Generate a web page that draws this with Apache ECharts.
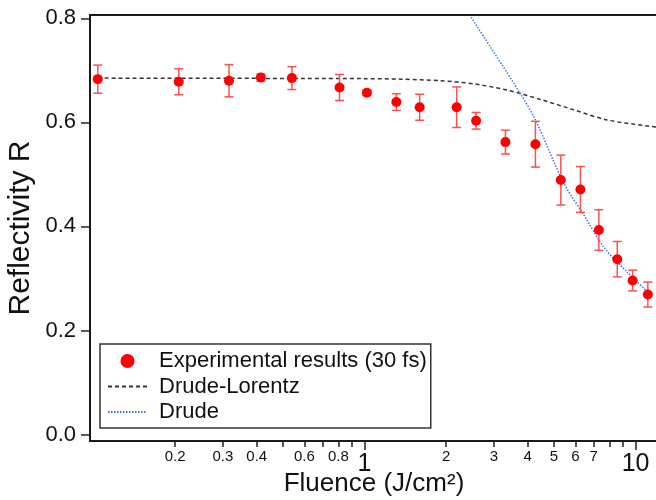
<!DOCTYPE html>
<html>
<head>
<meta charset="utf-8">
<script src="https://cdn.jsdelivr.net/npm/echarts@6/dist/echarts.min.js"></script>
<style>
    html, body { margin: 0; padding: 0; background: #fff; }
    #refl { width: 656px; height: 500px; }
</style>
</head>
<body>
<div id="refl"></div>
<script>
// measured points (fluence in J/cm2, reflectivity, error half-height)
var fluence = [0.1036, 0.2062, 0.316, 0.4143, 0.5393, 0.8083, 1.02, 1.31, 1.597, 2.187, 2.58, 3.31, 4.27, 5.30, 6.26, 7.32, 8.56, 9.75, 11.1];
var reflect = [0.683, 0.678, 0.680, 0.686, 0.685, 0.667, 0.657, 0.639, 0.629, 0.629, 0.603, 0.562, 0.558, 0.489, 0.471, 0.393, 0.337, 0.296, 0.269];
var errR = [0.027, 0.025, 0.031, 0.007, 0.022, 0.025, 0.005, 0.016, 0.025, 0.039, 0.016, 0.023, 0.044, 0.048, 0.044, 0.039, 0.034, 0.020, 0.024];

// Drude-Lorentz model curve
var dlFluence = [0.1036, 1.0, 1.355, 1.904, 2.527, 3.357, 4.457, 5.918, 7.863, 11.05, 11.96];
var dlR = [0.685, 0.684, 0.683, 0.680, 0.674, 0.662, 0.644, 0.624, 0.6045, 0.593, 0.591];

// Drude model curve
var drudeFluence = [2.472, 3.759, 4.272, 5.435, 6.442, 7.686, 9.318, 10.98];
var drudeR = [0.802, 0.655, 0.6045, 0.483, 0.422, 0.358, 0.312, 0.276];

// axis ticks
var xMinorTicks = [0.2, 0.3, 0.4, 0.5, 0.6, 0.7, 0.8, 0.9, 2, 3, 4, 5, 6, 7, 8, 9];
var xMajorTicks = [1, 10];
var xLabels = [0.2, 0.3, 0.4, 0.6, 0.8, 1, 2, 3, 4, 5, 6, 7, 10];
var yTicks = [0, 0.2, 0.4, 0.6, 0.8];

var font = 'Liberation Sans, Arial, sans-serif';

$ = window.$ || function (f) { f(); };

$(function () {
    var chart = echarts.init(document.getElementById('refl'));

    function lg(v) { return Math.log10(v); }
    function pairs(xs, ys) {
        return xs.map(function (x, i) { return [lg(x), ys[i]]; });
    }

    var pts = pairs(fluence, reflect);
    var errData = fluence.map(function (x, i) {
        return [lg(x), reflect[i] - errR[i], reflect[i] + errR[i]];
    });

    var xMin = lg(0.097), xMax = lg(12.1);

    var option = {
        animation: false,
        textStyle: { fontFamily: font },
        grid: {
            left: 90, top: 15, right: -2, bottom: 59,
            outerBoundsMode: 'none',
            containLabel: false,
            show: true,
            borderColor: '#1a1a1a',
            borderWidth: 2
        },
        legend: {
            left: 100,
            top: 344,
            orient: 'vertical',
            selectedMode: false,
            itemWidth: 39,
            itemHeight: 14,
            itemGap: 3.5,
            padding: [6, 4, 5, 7],
            borderColor: '#333',
            borderWidth: 1.5,
            backgroundColor: '#fff',
            textStyle: { fontSize: 22, color: '#111', fontFamily: font, padding: [0, 0, 0, 7] },
            data: [
                'Experimental results (30 fs)',
                { name: 'Drude-Lorentz', itemStyle: { opacity: 0 } },
                { name: 'Drude', itemStyle: { opacity: 0 } }
            ]
        },
        xAxis: [
            {
                type: 'value',
                min: xMin,
                max: xMax,
                name: 'Fluence (J/cm²)',
                nameLocation: 'middle',
                nameGap: 30,
                nameMoveOverlap: false,
                nameTextStyle: { fontSize: 26, color: '#111', fontFamily: font },
                axisLine: { show: true, onZero: false, lineStyle: { color: '#1a1a1a', width: 2 } },
                axisTick: {
                    show: true,
                    length: 6,
                    customValues: xMinorTicks.map(lg),
                    lineStyle: { color: '#222', width: 1.5 }
                },
                axisLabel: {
                    customValues: xLabels.map(lg),
                    margin: 8,
                    fontSize: 15,
                    color: '#111',
                    formatter: function (v) {
                        var f = parseFloat(Math.pow(10, v).toPrecision(3));
                        if (f === 1 || f === 10) {
                            return '{big|' + f + '}';
                        }
                        return String(f);
                    },
                    rich: {
                        big: { fontSize: 25, color: '#111', fontFamily: font, padding: [3, 0, 0, 0] }
                    }
                },
                splitLine: { show: false }
            },
            {
                type: 'value',
                min: xMin,
                max: xMax,
                position: 'bottom',
                axisLine: { show: false, onZero: false },
                axisTick: {
                    show: true,
                    length: 9,
                    customValues: xMajorTicks.map(lg),
                    lineStyle: { color: '#222', width: 1.5 }
                },
                axisLabel: { show: false },
                splitLine: { show: false }
            }
        ],
        yAxis: {
            type: 'value',
            min: -0.0125,
            max: 0.8063,
            name: 'Reflectivity R',
            nameLocation: 'middle',
            nameGap: 54,
            nameMoveOverlap: false,
            nameTextStyle: { fontSize: 30, color: '#111', fontFamily: font },
            axisLine: { show: true, onZero: false, lineStyle: { color: '#1a1a1a', width: 2 } },
            axisTick: {
                show: true,
                length: 9,
                customValues: yTicks,
                lineStyle: { color: '#222', width: 1.5 }
            },
            axisLabel: {
                customValues: yTicks,
                margin: 14,
                fontSize: 22,
                color: '#111',
                formatter: function (v) { return v.toFixed(1); }
            },
            splitLine: { show: false }
        },
        series: [
            {
                name: 'Drude-Lorentz',
                type: 'line',
                data: pairs(dlFluence, dlR),
                smooth: 0.3,
                symbol: 'none',
                lineStyle: { color: '#333', width: 1.5, type: [4, 3] },
                itemStyle: { color: '#333' },
                z: 2
            },
            {
                name: 'Drude',
                type: 'line',
                data: pairs(drudeFluence, drudeR),
                smooth: 0.3,
                symbol: 'none',
                lineStyle: { color: '#3b74f0', width: 1.5, type: [1.5, 1.5] },
                itemStyle: { color: '#3b74f0' },
                z: 2
            },
            {
                name: 'errorbars',
                type: 'custom',
                data: errData,
                encode: { x: 0, y: [1, 2] },
                renderItem: function (params, api) {
                    var x = api.value(0);
                    var lo = api.coord([x, api.value(1)]);
                    var hi = api.coord([x, api.value(2)]);
                    var w = 4.5;
                    var st = { stroke: '#ff5050', lineWidth: 1.5 };
                    return {
                        type: 'group',
                        children: [
                            { type: 'line', shape: { x1: lo[0], y1: lo[1], x2: hi[0], y2: hi[1] }, style: st },
                            { type: 'line', shape: { x1: hi[0] - w, y1: hi[1], x2: hi[0] + w, y2: hi[1] }, style: st },
                            { type: 'line', shape: { x1: lo[0] - w, y1: lo[1], x2: lo[0] + w, y2: lo[1] }, style: st }
                        ]
                    };
                },
                z: 3
            },
            {
                name: 'Experimental results (30 fs)',
                type: 'scatter',
                data: pts,
                symbol: 'circle',
                symbolSize: 10,
                itemStyle: { color: '#ff0000', opacity: 1 },
                z: 4
            }
        ]
    };

    chart.setOption(option);
    window.addEventListener('resize', function () {
        chart.resize();
    });
});
</script>
</body>
</html>
